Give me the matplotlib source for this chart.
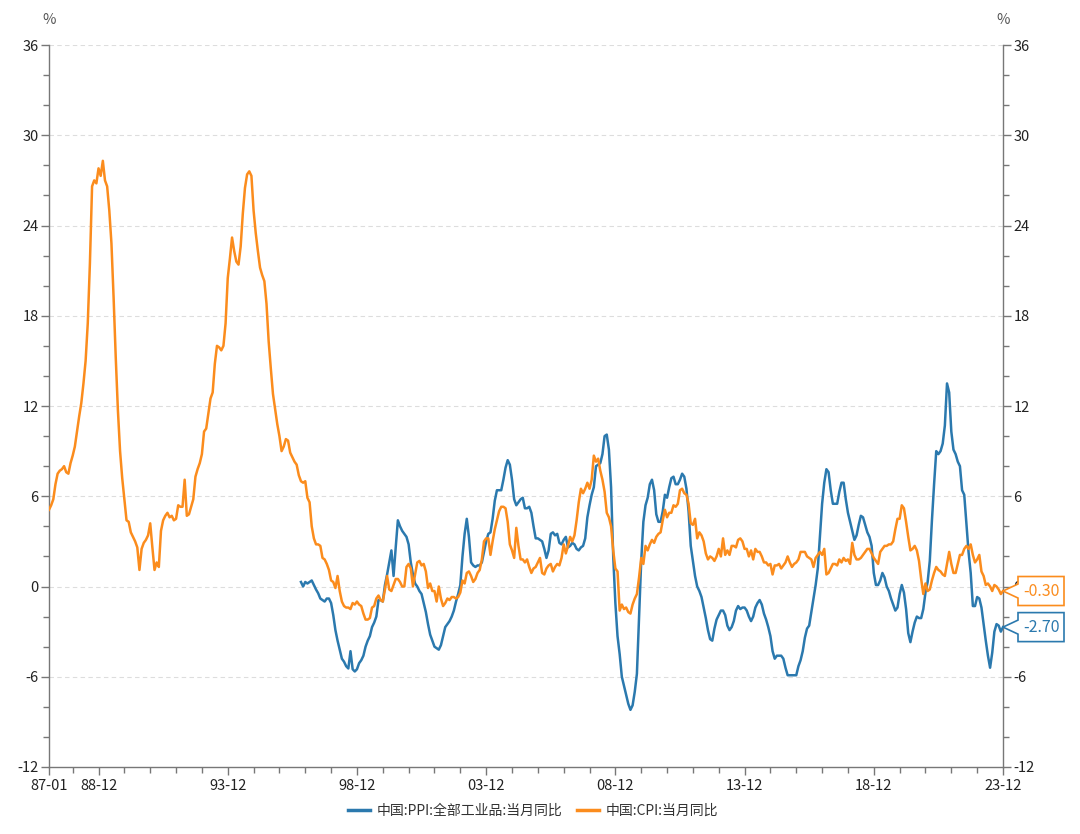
import numpy as np
import matplotlib
matplotlib.use("Agg")
import matplotlib.pyplot as plt
import matplotlib.transforms as mtransforms
from matplotlib.patches import Polygon

plt.rcParams["font.family"] = ["Noto Sans CJK SC", "DejaVu Sans"]
plt.rcParams["axes.unicode_minus"] = False

# monthly YoY, %, 1987-01 .. 2023-12
cpi_by_year = {
    1987: [5.1, 5.4, 5.8, 6.8, 7.5, 7.7, 7.8, 8.0, 7.6, 7.5, 8.2, 8.7],
    1988: [9.3, 10.3, 11.3, 12.2, 13.5, 15.0, 17.5, 21.5, 26.6, 27.0, 26.8, 27.8],
    1989: [27.3, 28.3, 27.0, 26.6, 25.0, 22.8, 19.2, 15.2, 11.7, 9.0, 7.2, 5.8],
    1990: [4.4, 4.3, 3.6, 3.3, 3.0, 2.6, 1.1, 2.5, 2.9, 3.1, 3.4, 4.2],
    1991: [2.6, 1.1, 1.6, 1.3, 3.7, 4.4, 4.7, 4.9, 4.6, 4.7, 4.4, 4.5],
    1992: [5.4, 5.3, 5.3, 7.1, 4.7, 4.8, 5.3, 5.8, 7.3, 7.8, 8.2, 8.8],
    1993: [10.3, 10.5, 11.5, 12.5, 12.9, 14.8, 16.0, 15.9, 15.7, 16.0, 17.5, 20.5],
    1994: [21.8, 23.2, 22.3, 21.6, 21.4, 22.6, 24.8, 26.5, 27.4, 27.6, 27.3, 25.0],
    1995: [23.5, 22.3, 21.2, 20.7, 20.3, 18.8, 16.3, 14.5, 12.8, 11.8, 10.8, 10.0],
    1996: [9.0, 9.3, 9.8, 9.7, 8.9, 8.6, 8.3, 8.1, 7.4, 7.0, 6.9, 7.0],
    1997: [5.9, 5.6, 4.0, 3.2, 2.8, 2.8, 2.7, 1.9, 1.8, 1.5, 1.1, 0.4],
    1998: [0.3, -0.1, 0.7, -0.3, -1.0, -1.3, -1.4, -1.4, -1.5, -1.1, -1.2, -1.0],
    1999: [-1.2, -1.3, -1.8, -2.2, -2.2, -2.1, -1.4, -1.3, -0.8, -0.6, -0.9, -1.0],
    2000: [-0.2, 0.7, -0.2, -0.3, 0.1, 0.5, 0.5, 0.3, 0.0, 0.0, 1.3, 1.5],
    2001: [1.2, 0.0, 0.8, 1.6, 1.7, 1.4, 1.5, 1.0, -0.1, 0.2, -0.3, -0.3],
    2002: [-1.0, 0.0, -0.8, -1.3, -1.1, -0.8, -0.9, -0.7, -0.7, -0.8, -0.7, -0.4],
    2003: [0.4, 0.2, 0.9, 1.0, 0.7, 0.3, 0.5, 0.9, 1.1, 1.8, 3.0, 3.2],
    2004: [3.2, 2.1, 3.0, 3.8, 4.4, 5.0, 5.3, 5.3, 5.2, 4.3, 2.8, 2.4],
    2005: [1.9, 3.9, 2.7, 1.8, 1.8, 1.6, 1.8, 1.3, 0.9, 1.2, 1.3, 1.6],
    2006: [1.9, 0.9, 0.8, 1.2, 1.4, 1.5, 1.0, 1.3, 1.5, 1.4, 1.9, 2.8],
    2007: [2.2, 2.7, 3.3, 3.0, 3.4, 4.4, 5.6, 6.5, 6.2, 6.5, 6.9, 6.5],
    2008: [7.1, 8.7, 8.3, 8.5, 7.7, 7.1, 6.3, 4.9, 4.6, 4.0, 2.4, 1.2],
    2009: [1.0, -1.6, -1.2, -1.5, -1.4, -1.7, -1.8, -1.2, -0.8, -0.5, 0.6, 1.9],
    2010: [1.5, 2.7, 2.4, 2.8, 3.1, 2.9, 3.3, 3.5, 3.6, 4.4, 5.1, 4.6],
    2011: [4.9, 4.9, 5.4, 5.3, 5.5, 6.4, 6.5, 6.2, 6.1, 5.5, 4.2, 4.1],
    2012: [4.5, 3.2, 3.6, 3.4, 3.0, 2.2, 1.8, 2.0, 1.9, 1.7, 2.0, 2.5],
    2013: [2.0, 3.2, 2.1, 2.4, 2.1, 2.7, 2.7, 2.6, 3.1, 3.2, 3.0, 2.5],
    2014: [2.5, 2.0, 2.4, 1.8, 2.5, 2.3, 2.3, 2.0, 1.6, 1.6, 1.4, 1.5],
    2015: [0.8, 1.4, 1.4, 1.5, 1.2, 1.4, 1.6, 2.0, 1.6, 1.3, 1.5, 1.6],
    2016: [1.8, 2.3, 2.3, 2.3, 2.0, 1.9, 1.8, 1.3, 1.9, 2.1, 2.3, 2.1],
    2017: [2.5, 0.8, 0.9, 1.2, 1.5, 1.5, 1.4, 1.8, 1.6, 1.9, 1.7, 1.8],
    2018: [1.5, 2.9, 2.1, 1.8, 1.8, 1.9, 2.1, 2.3, 2.5, 2.5, 2.2, 1.9],
    2019: [1.7, 1.5, 2.3, 2.5, 2.7, 2.7, 2.8, 2.8, 3.0, 3.8, 4.5, 4.5],
    2020: [5.4, 5.2, 4.3, 3.3, 2.4, 2.5, 2.7, 2.4, 1.7, 0.5, -0.5, 0.2],
    2021: [-0.3, -0.2, 0.4, 0.9, 1.3, 1.1, 1.0, 0.8, 0.7, 1.5, 2.3, 1.5],
    2022: [0.9, 0.9, 1.5, 2.1, 2.1, 2.5, 2.7, 2.5, 2.8, 2.1, 1.6, 1.8],
    2023: [2.1, 1.0, 0.7, 0.1, 0.2, 0.0, -0.3, 0.1, 0.0, -0.2, -0.5, -0.3],
}

# PPI starts 1996-10
ppi_by_year = {
    1996: [0.3, 0.0, 0.3],
    1997: [0.2, 0.3, 0.4, 0.1, -0.2, -0.45, -0.8, -0.9, -1.0, -0.8, -0.8, -1.1],
    1998: [-1.9, -2.9, -3.6, -4.2, -4.8, -5.0, -5.3, -5.45, -4.3, -5.5, -5.65, -5.5],
    1999: [-5.1, -4.9, -4.6, -4.0, -3.6, -3.3, -2.7, -2.4, -2.0, -0.9, -0.9, -1.0],
    2000: [0.1, 0.8, 1.6, 2.4, 0.7, 2.6, 4.4, 4.0, 3.7, 3.5, 3.3, 2.8],
    2001: [1.6, 0.8, 0.2, 0.0, -0.3, -0.5, -1.1, -1.7, -2.5, -3.2, -3.6, -4.0],
    2002: [-4.1, -4.2, -3.9, -3.3, -2.7, -2.5, -2.3, -2.0, -1.6, -1.0, -0.5, 0.1],
    2003: [2.0, 3.5, 4.5, 3.3, 1.6, 1.4, 1.3, 1.4, 1.4, 1.6, 2.3, 3.0],
    2004: [3.5, 3.6, 4.5, 5.7, 6.4, 6.4, 6.4, 7.1, 7.9, 8.4, 8.1, 7.1],
    2005: [5.8, 5.4, 5.6, 5.8, 5.9, 5.2, 5.2, 5.3, 4.9, 4.0, 3.2, 3.2],
    2006: [3.1, 3.0, 2.5, 1.9, 2.4, 3.5, 3.6, 3.4, 3.5, 2.9, 2.8, 3.1],
    2007: [3.3, 2.6, 2.7, 2.9, 2.8, 2.5, 2.4, 2.6, 2.7, 3.2, 4.6, 5.4],
    2008: [6.1, 6.6, 8.0, 8.1, 8.2, 8.8, 10.0, 10.1, 9.1, 6.6, 2.0, -1.1],
    2009: [-3.3, -4.5, -6.0, -6.6, -7.2, -7.8, -8.2, -7.9, -7.0, -5.8, -2.1, 1.7],
    2010: [4.3, 5.4, 5.9, 6.8, 7.1, 6.4, 4.8, 4.3, 4.3, 5.0, 6.1, 5.9],
    2011: [6.6, 7.2, 7.3, 6.8, 6.8, 7.1, 7.5, 7.3, 6.5, 5.0, 2.7, 1.7],
    2012: [0.7, 0.0, -0.3, -0.7, -1.4, -2.1, -2.9, -3.5, -3.6, -2.8, -2.2, -1.9],
    2013: [-1.6, -1.6, -1.9, -2.6, -2.9, -2.7, -2.3, -1.6, -1.3, -1.5, -1.4, -1.4],
    2014: [-1.6, -2.0, -2.3, -2.0, -1.4, -1.1, -0.9, -1.2, -1.8, -2.2, -2.7, -3.3],
    2015: [-4.3, -4.8, -4.6, -4.6, -4.6, -4.8, -5.4, -5.9, -5.9, -5.9, -5.9, -5.9],
    2016: [-5.3, -4.9, -4.3, -3.4, -2.8, -2.6, -1.7, -0.8, 0.1, 1.2, 3.3, 5.5],
    2017: [6.9, 7.8, 7.6, 6.4, 5.5, 5.5, 5.5, 6.3, 6.9, 6.9, 5.8, 4.9],
    2018: [4.3, 3.7, 3.1, 3.4, 4.1, 4.7, 4.6, 4.1, 3.6, 3.3, 2.7, 0.9],
    2019: [0.1, 0.1, 0.4, 0.9, 0.6, 0.0, -0.3, -0.8, -1.2, -1.6, -1.4, -0.5],
    2020: [0.1, -0.4, -1.5, -3.1, -3.7, -3.0, -2.4, -2.0, -2.1, -2.1, -1.5, -0.4],
    2021: [0.3, 1.7, 4.4, 6.8, 9.0, 8.8, 9.0, 9.5, 10.7, 13.5, 12.9, 10.3],
    2022: [9.1, 8.8, 8.3, 8.0, 6.4, 6.1, 4.2, 2.3, 0.9, -1.3, -1.3, -0.7],
    2023: [-0.8, -1.4, -2.5, -3.6, -4.6, -5.4, -4.4, -3.0, -2.5, -2.6, -3.0, -2.7],
}

cpi = np.concatenate([cpi_by_year[y] for y in sorted(cpi_by_year)])
ppi = np.concatenate([ppi_by_year[y] for y in sorted(ppi_by_year)])
m_cpi = np.arange(len(cpi))                 # 0 = 1987-01
m_ppi = np.arange(len(ppi)) + (len(cpi) - len(ppi))
last = len(cpi) - 1

xtick_labels = ["87-01", "88-12", "93-12", "98-12", "03-12", "08-12", "13-12", "18-12", "23-12"]
yticks = [-12, -6, 0, 6, 12, 18, 24, 30, 36]

C_PPI = "#2b79ae"
C_CPI = "#fb8c1d"

def month_idx(lbl):
    yy, mm = lbl.split("-")
    yy = int(yy); yy = 1900 + yy if yy > 50 else 2000 + yy
    return (yy - 1987) * 12 + int(mm) - 1

W, H = 1080, 834
fig = plt.figure(figsize=(W / 100, H / 100), dpi=100)
ax = fig.add_axes([49 / W, (H - 767) / H, 954 / W, 722 / H])

ax.plot(m_ppi, ppi, color=C_PPI, lw=1.8, label="中国:PPI:全部工业品:当月同比", zorder=3)
ax.plot(m_cpi, cpi, color=C_CPI, lw=1.8, label="中国:CPI:当月同比", zorder=3)

ax.set_xlim(0, last)
ax.set_ylim(-12, 36)
ax.set_yticks(yticks)
ax.set_yticks(np.arange(-12, 37, 2), minor=True)
maj = [month_idx(l) for l in xtick_labels]
ax.set_xticks(maj)
ax.set_xticklabels(xtick_labels)
ax.set_xticks([m for m in range(11, last, 12) if m not in maj], minor=True)

for y in yticks[1:]:
    ax.axhline(y, color="#dddddd", lw=0.8, ls=(0, (4, 3)), zorder=1)

for s in ("left", "right", "bottom"):
    ax.spines[s].set_color("#777777")
    ax.spines[s].set_linewidth(1.0)
ax.spines["top"].set_visible(False)

ax.yaxis.set_ticks_position("both")
ax.tick_params(axis="y", which="both", labelright=True, direction="out")
ax.tick_params(which="major", length=6, width=1, color="#777777", labelsize=10.5,
               labelcolor="#222222", pad=1.5)
ax.tick_params(which="minor", length=4, width=1, color="#777777")
ax.tick_params(axis="x", which="major", pad=3)

fig.text(49 / W, 1 - 20 / H, "%", ha="center", va="center", fontsize=10.5, color="#555555")
fig.text(1003 / W, 1 - 20 / H, "%", ha="center", va="center", fontsize=10.5, color="#555555")

fig.legend(loc="center", bbox_to_anchor=(533 / W, 1 - 811 / H), ncol=2, frameon=False,
           fontsize=10, handlelength=1.6, handletextpad=0.5, columnspacing=1.0,
           labelcolor="#333333")
for ln in fig.legends[0].get_lines():
    ln.set_linewidth(2.5)

# end-value callouts
ident = mtransforms.IdentityTransform()
for val, color in ((cpi[-1], C_CPI), (ppi[-1], C_PPI)):
    tx, ty = ax.transData.transform((last, val))
    x0, x1, hh, nn = 15, 61, 14.5, 7
    verts = [(tx, ty), (tx + x0, ty + nn), (tx + x0, ty + hh), (tx + x1, ty + hh),
             (tx + x1, ty - hh), (tx + x0, ty - hh), (tx + x0, ty - nn)]
    fig.add_artist(Polygon(verts, closed=True, transform=ident, facecolor="white",
                           edgecolor=color, lw=1.2, zorder=10))
    fig.text((tx + (x0 + x1) / 2) / W, ty / H, f"{val:.2f}", ha="center", va="center",
             fontsize=11.5, color=color, zorder=11)

fig.savefig("out.png", dpi=100, facecolor="white")
